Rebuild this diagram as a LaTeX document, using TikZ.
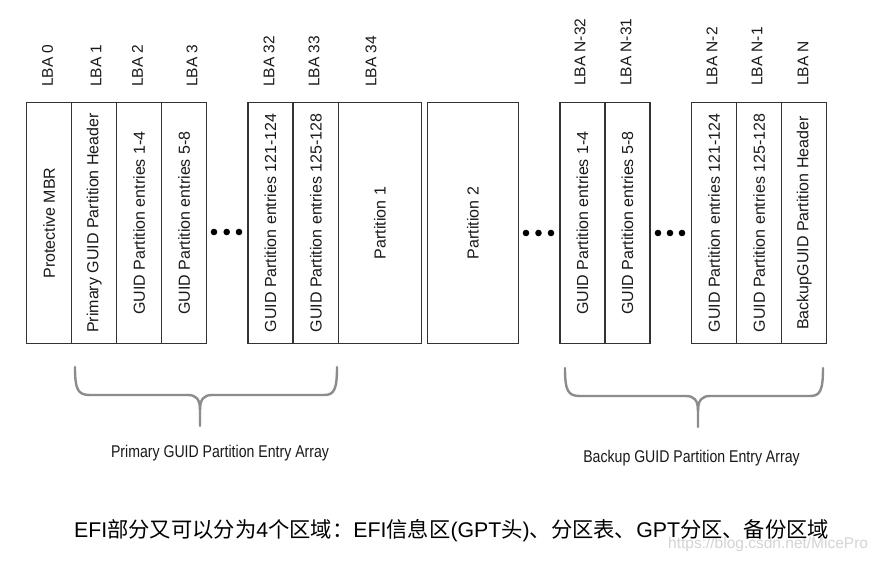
\documentclass[tikz,border=0pt]{standalone}
\usepackage{fontspec}
\setmainfont{Liberation Sans}
\newfontfamily\cjk{Noto Sans CJK SC}
\usepackage{tikz}
\newcommand{\narrowtxt}[1]{\scalebox{0.83}[1]{#1}}

\begin{document}
\begin{tikzpicture}[x=1pt, y=-1pt,
        cell/.style={draw=black!80, line width=1.1pt, rotate=90,
            minimum width=240.6pt, minimum height=45pt, inner sep=0pt,
            text=black!90, font=\fontsize{16}{19}\selectfont},
        lba/.style={rotate=90, anchor=west, inner sep=0pt, text=black!90,
            font=\fontsize{15.5}{18}\selectfont},
        dot/.style={fill=black},
        brace/.style={draw=black!45, line width=2.4pt, line cap=round,
            line join=round},
        arraytxt/.style={anchor=base, inner sep=0pt, text=black!90,
            font=\fontsize{17}{20}\selectfont}]

        \path[fill=white] (0,0) rectangle (879,562);

        % LBA numbers
        \node[lba] (l0) at (47.5,87) {LBA 0}; \node[lba] (l1) at (96,87)
        {LBA 1}; \node[lba] (l2) at (137.5,87) {LBA 2}; \node[lba] (l3) at
        (192,87) {LBA 3};
        \node[lba] (l32) at (269,87) {LBA 32}; \node[lba] (l33) at (314,87)
        {LBA 33}; \node[lba] (l34) at (371,87) {LBA 34};
        \node[lba] (ln32) at (580,86) {LBA N-32}; \node[lba] (ln31) at
        (626,86) {LBA N-31};
        \node[lba] (ln2) at (712,86) {LBA N-2}; \node[lba] (ln1) at (757,86)
        {LBA N-1}; \node[lba] (ln) at (803,86) {LBA N};

        % primary header and entries
        \node[cell] (mbr) at (49.2,223) {Protective MBR};
        \node[cell] (phdr) at (94.2,223) {Primary GUID Partition Header};
        \node[cell] (pe1) at (139.2,223) {GUID Partition entries 1-4};
        \node[cell] (pe2) at (184.2,223) {GUID Partition entries 5-8};

        \node[cell] (pe31) at (270.5,223) {GUID Partition entries 121-124};
        \node[cell] (pe32) at (315.8,223) {GUID Partition entries 125-128};
        \node[cell, minimum height=83.4pt] (part1) at (380,223) {Partition 1};

        \node[cell, minimum height=91pt] (part2) at (472.8,223) {Partition 2};

        % backup entries and header
        \node[cell] (be1) at (582.5,223) {GUID Partition entries 1-4};
        \node[cell] (be2) at (627.5,223) {GUID Partition entries 5-8};

        \node[cell] (be31) at (714.2,223) {GUID Partition entries 121-124};
        \node[cell] (be32) at (759.2,223) {GUID Partition entries 125-128};
        \node[cell] (bhdr) at (804.2,223) {BackupGUID Partition Header};

        % dots
        \fill[dot] (214,232) circle (3.3pt); \fill[dot] (226.7,232) circle
        (3.3pt); \fill[dot] (239,232) circle (3.3pt);
        \fill[dot] (526,233) circle (3.3pt); \fill[dot] (538.5,233) circle
        (3.3pt); \fill[dot] (551,233) circle (3.3pt);
        \fill[dot] (658,233) circle (3.3pt); \fill[dot] (670,233) circle
        (3.3pt); \fill[dot] (682,233) circle (3.3pt);

        % braces
        \draw[brace] (75,367) .. controls (75,390) and (78,395) .. (90,395)
        -- (188,395) .. controls (196,395) and (200,399) .. (200,410) --
        (200,426);
        \draw[brace] (200,410) .. controls (200,399) and (204,395) ..
        (212,395) -- (324,395) .. controls (334,395) and (337,390) ..
        (337,367);
        \draw[brace] (565,368) .. controls (565,391) and (568,396) ..
        (580,396) -- (686,396) .. controls (694,396) and (698,400) ..
        (698,411) -- (698,427);
        \draw[brace] (698,411) .. controls (698,400) and (702,396) ..
        (710,396) -- (810,396) .. controls (820,396) and (823,391) ..
        (823,368);

        \node[arraytxt] (parr) at (220,457) {\narrowtxt{Primary GUID
        Partition Entry Array}};
        \node[arraytxt] (barr) at (691.5,462) {\narrowtxt{Backup GUID
        Partition Entry Array}};

        \node[anchor=base west, inner sep=0pt, text=black!17,
        font=\fontsize{15.5}{18}\selectfont] (mark) at (668,548)
        {https://blog.csdn.net/MicePro};

        \node[anchor=base west, inner sep=0pt, font=\fontsize{21.3}{25}\selectfont]
        (note) at (74,537) {EFI{\cjk 部分又可以分为}4{\cjk 个区域：}EFI{\cjk
        信息区}(GPT{\cjk 头}){\cjk 、分区表、}GPT{\cjk 分区、备份区域}};
    \end{tikzpicture}
\end{document}
